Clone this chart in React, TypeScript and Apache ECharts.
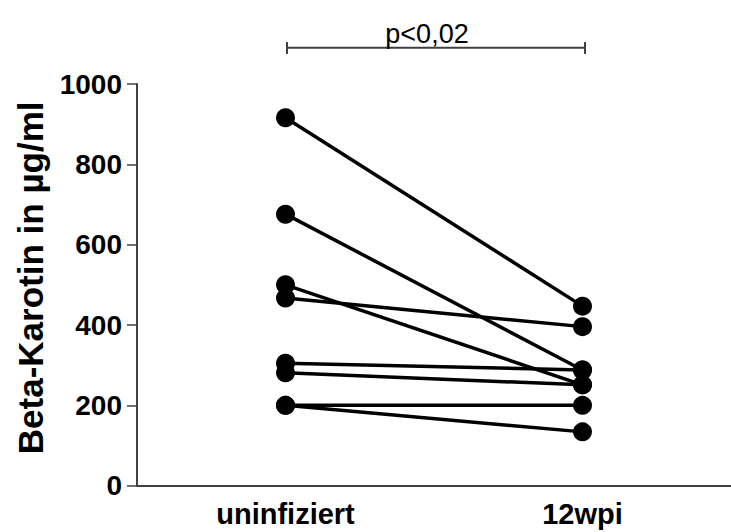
import React, { useEffect, useRef } from "react";
import * as echarts from "echarts";

// Groups on the x axis
const groups = ["uninfiziert", "12wpi"];

// Beta-carotene per animal (µg/ml), paired by index
const uninfiziert = [916, 676, 500, 467, 305, 281, 200, 200];
const wpi12 = [447, 288, 251, 396, 288, 251, 200, 134];

// Y axis range
const yMin = 0;
const yMax = 1000;
const yStep = 200;

const significance = "p<0,02";
const yTitle = "Beta-Karotin in µg/ml";

const FONT = '"Liberation Sans", Arial, Helvetica, sans-serif';
const AXIS_COLOR = "#404040";

export default function App() {
  const ref = useRef<HTMLDivElement>(null);

  useEffect(() => {
    if (!ref.current) return;
    const chart = echarts.init(ref.current, undefined, { renderer: "svg" });

    const series = uninfiziert.map((v, i) => ({
      type: "line" as const,
      name: `Tier ${i + 1}`,
      data: [v, wpi12[i]],
      symbol: "circle",
      symbolSize: 19,
      showSymbol: true,
      lineStyle: { color: "#000", width: 3.5 },
      itemStyle: { color: "#000" },
      emphasis: { disabled: true },
      z: 3,
    }));

    chart.setOption({
      animation: false,
      backgroundColor: "#fff",
      grid: { left: 137, top: 84, width: 604, bottom: 46.3 },
      xAxis: {
        type: "category",
        data: groups,
        boundaryGap: true,
        axisLine: { lineStyle: { color: AXIS_COLOR, width: 2 } },
        axisTick: {
          alignWithLabel: true,
          length: 8,
          lineStyle: { color: AXIS_COLOR, width: 1.5 },
        },
        axisLabel: {
          color: "#000",
          fontFamily: FONT,
          fontWeight: "bold",
          fontSize: 29,
          margin: 14,
        },
        splitLine: { show: false },
      },
      yAxis: {
        type: "value",
        min: yMin,
        max: yMax,
        interval: yStep,
        name: yTitle,
        nameLocation: "middle",
        nameRotate: 90,
        nameGap: 89,
        nameTextStyle: {
          color: "#000",
          fontFamily: FONT,
          fontWeight: "bold",
          fontSize: 35,
          padding: [0, 0, 0, 14],
        },
        axisLine: { show: true, lineStyle: { color: AXIS_COLOR, width: 2 } },
        axisTick: {
          show: true,
          length: 10,
          lineStyle: { color: AXIS_COLOR, width: 1.5 },
        },
        axisLabel: {
          color: "#000",
          fontFamily: FONT,
          fontWeight: "bold",
          fontSize: 28,
          margin: 15,
          formatter: (v: number) => String(v),
        },
        splitLine: { show: false },
      },
      graphic: [
        {
          type: "group",
          children: [
            {
              type: "line",
              shape: { x1: 287, y1: 47.7, x2: 585, y2: 47.7 },
              style: { stroke: AXIS_COLOR, lineWidth: 2 },
            },
            {
              type: "line",
              shape: { x1: 287, y1: 42, x2: 287, y2: 54 },
              style: { stroke: AXIS_COLOR, lineWidth: 2 },
            },
            {
              type: "line",
              shape: { x1: 585, y1: 42, x2: 585, y2: 54 },
              style: { stroke: AXIS_COLOR, lineWidth: 2 },
            },
            {
              type: "text",
              x: 427,
              y: 34,
              style: {
                text: significance,
                fill: "#000",
                font: `27px ${FONT}`,
                align: "center",
                verticalAlign: "middle",
              },
            },
          ],
        },
      ],
      series,
    });

    return () => chart.dispose();
  }, []);

  return (
    <div
      ref={ref}
      style={{ position: "absolute", left: 0, top: 0, width: 731, height: 532 }}
    />
  );
}
